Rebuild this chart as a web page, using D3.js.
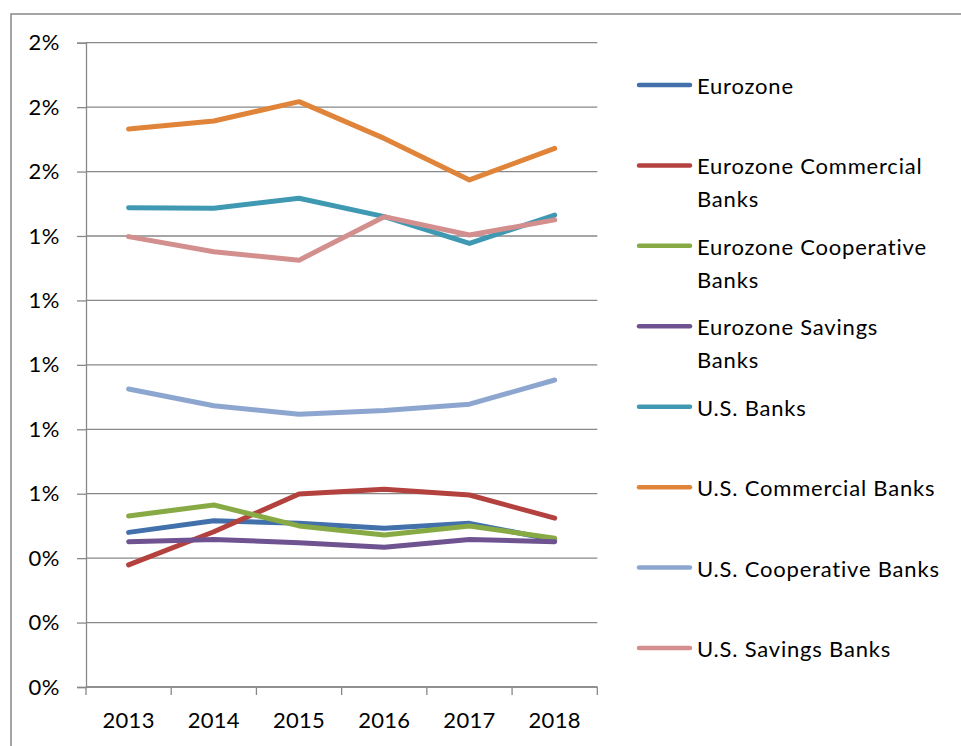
<!DOCTYPE html>
<html>
<head>
<meta charset="utf-8">
<script src="https://cdn.jsdelivr.net/npm/d3@7"></script>
<style>
  html, body { margin: 0; padding: 0; background: #fff; }
  svg { display: block; font-family: Lato, "Open Sans", sans-serif; }
</style>
</head>
<body>
<svg id="chart" width="961" height="746"></svg>
<script>
// Return on assets by year, in percent
const years = ["2013", "2014", "2015", "2016", "2017", "2018"];
const seriesNames = [
  "Eurozone",
  "Eurozone Commercial Banks",
  "Eurozone Cooperative Banks",
  "Eurozone Savings Banks",
  "U.S. Banks",
  "U.S. Commercial Banks",
  "U.S. Cooperative Banks",
  "U.S. Savings Banks"
];
const legendLines = [
  ["Eurozone"],
  ["Eurozone Commercial", "Banks"],
  ["Eurozone Cooperative", "Banks"],
  ["Eurozone Savings", "Banks"],
  ["U.S. Banks"],
  ["U.S. Commercial Banks"],
  ["U.S. Cooperative Banks"],
  ["U.S. Savings Banks"]
];
const eurozone            = [0.480, 0.516, 0.508, 0.493, 0.508, 0.456];
const eurozoneCommercial  = [0.379, 0.482, 0.599, 0.614, 0.596, 0.524];
const eurozoneCooperative = [0.531, 0.565, 0.500, 0.472, 0.500, 0.462];
const eurozoneSavings     = [0.451, 0.458, 0.448, 0.434, 0.458, 0.451];
const usBanks             = [1.488, 1.486, 1.517, 1.460, 1.377, 1.465];
const usCommercial        = [1.732, 1.757, 1.817, 1.703, 1.574, 1.672];
const usCooperative       = [0.925, 0.873, 0.847, 0.858, 0.878, 0.953];
const usSavings           = [1.398, 1.351, 1.325, 1.460, 1.403, 1.450];
const seriesValues = [eurozone, eurozoneCommercial, eurozoneCooperative, eurozoneSavings,
                      usBanks, usCommercial, usCooperative, usSavings];
const colors = ["#4170AA", "#B3423F", "#88AA45", "#6F5290",
                "#4099B2", "#E0843A", "#8DA6CF", "#D28F8E"];
const yTicks = d3.range(0, 11).map(i => i * 0.2);

const svg = d3.select("#chart");
const gridColor = "#888888";
const fontSize = "22px";

// outer chart frame
svg.append("rect")
  .attr("x", 11).attr("y", 14)
  .attr("width", 1000).attr("height", 1000)
  .attr("fill", "none")
  .attr("stroke", gridColor)
  .attr("stroke-width", 1.5);

const plot = { left: 86, right: 597.3, top: 42.7, bottom: 687 };

const x = d3.scaleBand().domain(years).range([plot.left, plot.right]);
const y = d3.scaleLinear().domain([0, 2]).range([plot.bottom, plot.top]);

// horizontal gridlines
svg.append("g")
  .selectAll("line")
  .data(yTicks)
  .join("line")
  .attr("x1", plot.left).attr("x2", plot.right)
  .attr("y1", d => y(d)).attr("y2", d => y(d))
  .attr("stroke", gridColor)
  .attr("stroke-width", 1.3);

// y axis
const yAxis = svg.append("g")
  .attr("transform", `translate(${plot.left},0)`)
  .call(d3.axisLeft(y)
    .tickValues(yTicks)
    .tickSize(9)
    .tickPadding(17)
    .tickFormat(d => d3.format(".0f")(d) + "%"));
yAxis.select(".domain").attr("stroke", gridColor).attr("stroke-width", 1.3);
yAxis.selectAll(".tick line").attr("stroke", gridColor).attr("stroke-width", 1.3);
yAxis.selectAll(".tick text")
  .attr("fill", "#000")
  .style("font-size", fontSize)
  .style("letter-spacing", "0.5px")
  .style("font-family", "Lato, 'Open Sans', sans-serif");

// x axis: ticks sit on category boundaries, labels at centers
const xAxisG = svg.append("g");
xAxisG.append("line")
  .attr("x1", plot.left).attr("x2", plot.right)
  .attr("y1", plot.bottom).attr("y2", plot.bottom)
  .attr("stroke", gridColor).attr("stroke-width", 1.3);
const bounds = years.map(d => x(d)).concat([x(years[years.length - 1]) + x.bandwidth()]);
xAxisG.selectAll("line.tick")
  .data(bounds)
  .join("line")
  .attr("class", "tick")
  .attr("x1", d => d).attr("x2", d => d)
  .attr("y1", plot.bottom).attr("y2", plot.bottom + 8)
  .attr("stroke", gridColor).attr("stroke-width", 1.3);
xAxisG.selectAll("text")
  .data(years)
  .join("text")
  .attr("x", d => x(d) + x.bandwidth() / 2)
  .attr("y", 728)
  .attr("text-anchor", "middle")
  .attr("fill", "#000")
  .style("font-size", fontSize)
  .style("letter-spacing", "0.3px")
  .text(d => d);

// series lines
const line = d3.line()
  .x((d, i) => x(years[i]) + x.bandwidth() / 2)
  .y(d => y(d));

svg.append("g")
  .selectAll("path")
  .data(seriesValues)
  .join("path")
  .attr("d", d => line(d))
  .attr("fill", "none")
  .attr("stroke", (d, i) => colors[i])
  .attr("stroke-width", 5)
  .attr("stroke-linejoin", "round")
  .attr("stroke-linecap", "round");

// legend
const legendY = d3.scaleLinear().domain([0, 7]).range([85, 648]);
const legend = svg.append("g")
  .selectAll("g")
  .data(seriesNames)
  .join("g")
  .attr("transform", (d, i) => `translate(0,${legendY(i)})`);
legend.append("line")
  .attr("x1", 639).attr("x2", 690)
  .attr("y1", 0).attr("y2", 0)
  .attr("stroke", (d, i) => colors[i])
  .attr("stroke-width", 4.5)
  .attr("stroke-linecap", "round");
legend.append("text")
  .attr("x", 697)
  .attr("y", 9)
  .attr("fill", "#000")
  .style("font-size", fontSize)
  .style("letter-spacing", "0.8px")
  .selectAll("tspan")
  .data((d, i) => legendLines[i])
  .join("tspan")
  .attr("x", 697)
  .attr("dy", (d, j) => j === 0 ? 0 : 33)
  .text(d => d);
</script>
</body>
</html>
